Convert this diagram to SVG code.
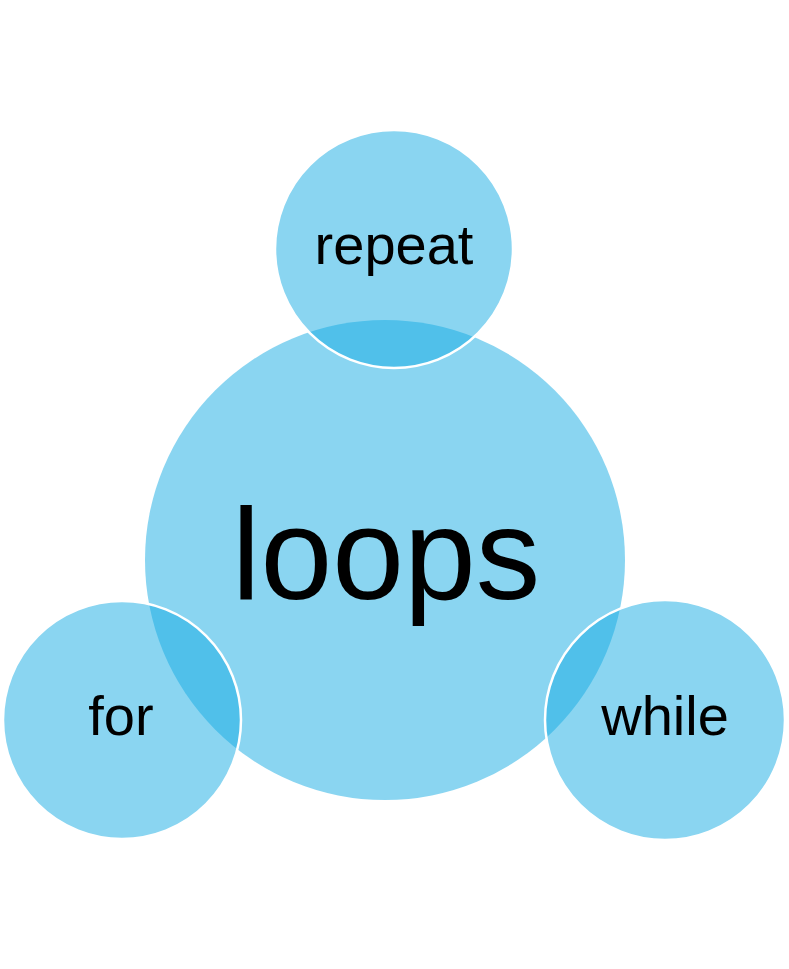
<svg xmlns="http://www.w3.org/2000/svg" width="789" height="969" viewBox="0 0 789 969">
<style>
.c{fill:#16ABE3;fill-opacity:0.5}
.s{stroke:#fff;stroke-width:2.5}
text{font-family:"Liberation Sans",Arial,sans-serif;fill:#000;text-anchor:middle}
.m{font-size:129px}
.l{font-size:56px}
</style>
<rect width="789" height="969" fill="#fff"/>
<g id="loops"><circle class="c" cx="385" cy="560" r="240"/><text class="m" x="386" y="599">loops</text></g>
<g id="repeat"><circle class="c s" cx="394" cy="249" r="119"/><text class="l" x="394" y="264">repeat</text></g>
<g id="for"><circle class="c s" cx="122" cy="720" r="119"/><text class="l" x="121" y="735">for</text></g>
<g id="while"><circle class="c s" cx="665" cy="720" r="120"/><text class="l" x="665" y="735">while</text></g>
<g id="connectors"/>
</svg>
